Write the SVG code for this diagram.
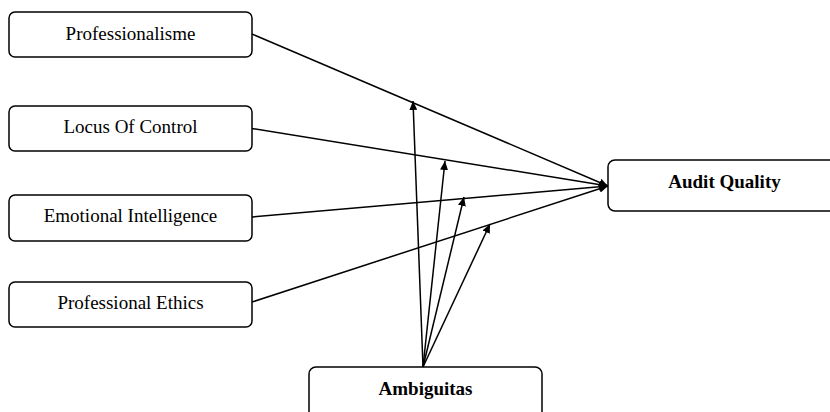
<svg xmlns="http://www.w3.org/2000/svg" width="830" height="412" viewBox="0 0 830 412">
<defs>
<marker id="ah" markerUnits="userSpaceOnUse" markerWidth="10" markerHeight="8" refX="9" refY="4" orient="auto">
<path d="M0,0 L9,4 L0,8 Z" fill="#000"/>
</marker>
<style>
.box{fill:#fff;stroke:#000;stroke-width:1.5}
.t{font-family:"Liberation Serif","Times New Roman",serif;font-size:19px;fill:#000;text-anchor:middle}
.b{font-weight:bold}
.c{stroke:#000;stroke-width:1.5;fill:none;marker-end:url(#ah)}
</style>
</defs>
<rect width="830" height="412" fill="#fff"/>
<g id="connectors">
<line class="c" x1="252" y1="34" x2="608" y2="186"/>
<line class="c" x1="252" y1="128.5" x2="608" y2="186"/>
<line class="c" x1="252" y1="217" x2="608" y2="186"/>
<line class="c" x1="252" y1="302" x2="608" y2="186"/>
<line class="c" x1="423" y1="367" x2="413" y2="101"/>
<line class="c" x1="423" y1="367" x2="445" y2="161"/>
<line class="c" x1="423" y1="367" x2="464" y2="197"/>
<line class="c" x1="423" y1="367" x2="490" y2="224"/>
</g>
<g id="professionalisme">
<rect class="box" x="9" y="12" width="243" height="45" rx="6"/>
<text class="t" x="130.5" y="39.5">Professionalisme</text>
</g>
<g id="locus-of-control">
<rect class="box" x="9" y="106" width="243" height="45" rx="6"/>
<text class="t" x="130.5" y="132.5">Locus Of Control</text>
</g>
<g id="emotional-intelligence">
<rect class="box" x="9" y="195" width="243" height="46" rx="6"/>
<text class="t" x="130.5" y="222">Emotional Intelligence</text>
</g>
<g id="professional-ethics">
<rect class="box" x="9" y="282" width="243" height="45" rx="6"/>
<text class="t" x="130.5" y="309">Professional Ethics</text>
</g>
<g id="audit-quality">
<rect class="box" x="608" y="160" width="233" height="51" rx="7"/>
<text class="t b" x="724.5" y="188">Audit Quality</text>
</g>
<g id="ambiguitas">
<rect class="box" x="309" y="367" width="233" height="60" rx="7"/>
<text class="t b" x="425.5" y="395">Ambiguitas</text>
</g>
</svg>
